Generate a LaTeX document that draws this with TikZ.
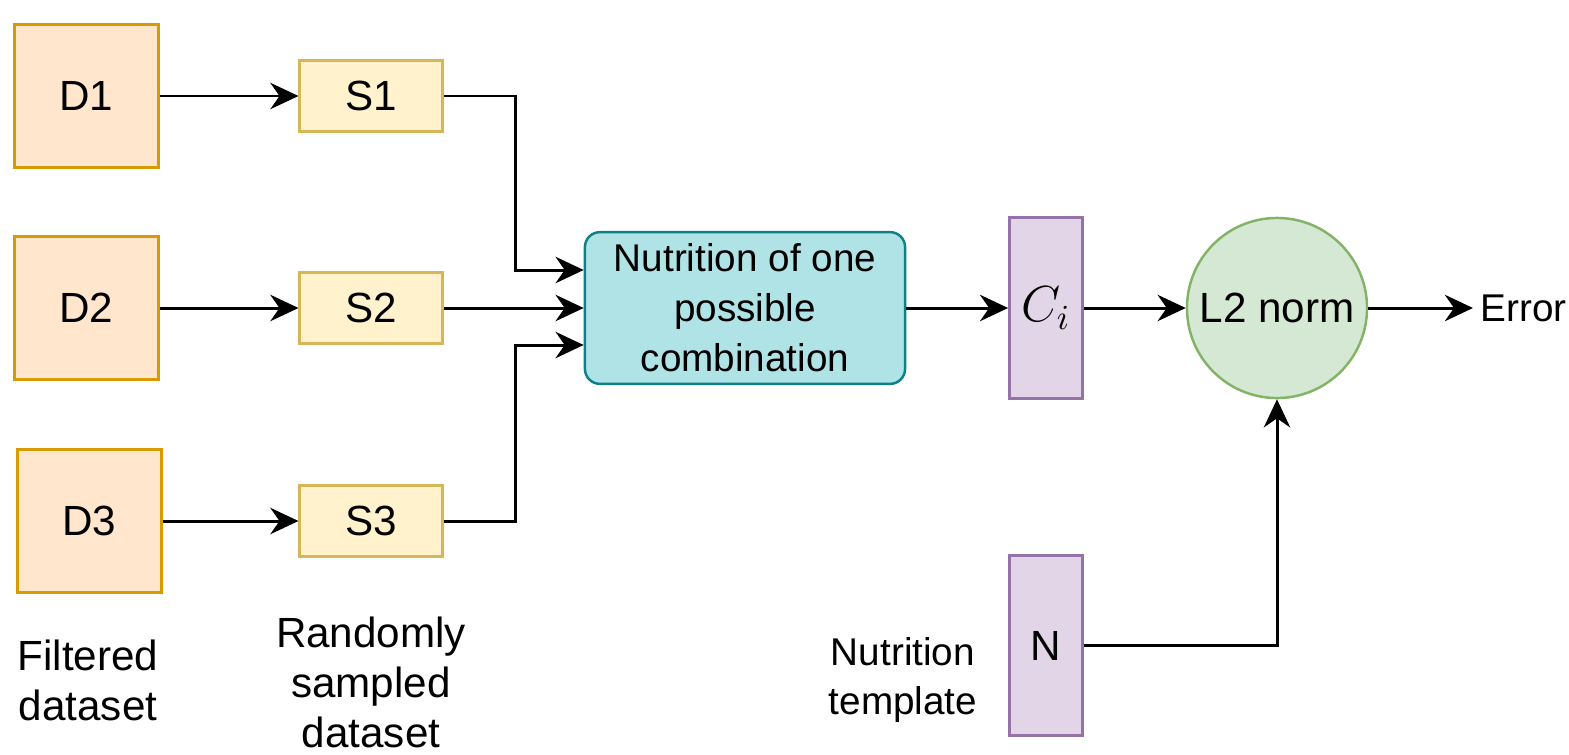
\documentclass[tikz,border=0pt]{standalone}
\usepackage{fontspec}
\setmainfont{Liberation Sans}
\usepackage{xcolor}
\usetikzlibrary{arrows.meta,calc,positioning}
\definecolor{dsetfill}{HTML}{FFE6CC}
\definecolor{dsetline}{HTML}{D79B00}
\definecolor{smplfill}{HTML}{FFF2CC}
\definecolor{smplline}{HTML}{D6B656}
\definecolor{combfill}{HTML}{B0E3E6}
\definecolor{combline}{HTML}{0E8088}
\definecolor{vecfill}{HTML}{E1D5E7}
\definecolor{vecline}{HTML}{9673A6}
\definecolor{normfill}{HTML}{D5E8D4}
\definecolor{normline}{HTML}{82B366}
\tikzset{
	>={Stealth[length=8pt,width=7.5pt,inset=2.6pt]},
	flow/.style={->, line width=0.85pt},
	bigtext/.style={font=\fontsize{12}{14.2}\selectfont},
	dsetbox/.style={
			draw=dsetline, fill=dsetfill, line width=0.85pt, rectangle,
			minimum width=1.43cm, minimum height=1.42cm, bigtext,
		},
	smplbox/.style={
			draw=smplline, fill=smplfill, line width=0.85pt, rectangle,
			minimum width=1.42cm, minimum height=0.7cm, bigtext,
		},
	combbox/.style={
			draw=combline, fill=combfill, line width=0.7pt, rectangle, rounded corners=0.15cm,
			minimum width=3.2cm, minimum height=1.43cm, align=center,
			font=\fontsize{11}{14.2}\selectfont,
		},
	vecbox/.style={
			draw=vecline, fill=vecfill, line width=0.85pt, rectangle,
			minimum width=0.72cm, minimum height=1.8cm, bigtext,
		},
	normnode/.style={
			draw=normline, fill=normfill, line width=0.7pt, circle,
			minimum size=1.8cm, inner sep=0pt, bigtext,
		},
	caption/.style={align=center, inner sep=0pt, bigtext},
}
\begin{document}
\begin{tikzpicture}[x=0.01cm,y=-0.01cm]
	\useasboundingbox (0,0) rectangle (1569,754);

	\node[dsetbox] at (86.5,96) (d1) {D1};
	\node[dsetbox] at (86.5,308) (d2) {D2};
	\node[dsetbox] at (89.5,521) (d3) {D3};

	\node[smplbox] at (371,96) (s1) {S1};
	\node[smplbox] at (371,308) (s2) {S2};
	\node[smplbox] at (371,521) (s3) {S3};

	\draw[flow] (d1) -- (s1);
	\draw[flow] (d2) -- (s2);
	\draw[flow] (d3) -- (s3);

	\node[combbox] at (745,308) (comb) {Nutrition of one\\possible\\combination};

	\draw[flow] (s1.east) -- ++(72,0) |- ($(comb.west)+(0,-38)$);
	\draw[flow] (s2) -- (comb);
	\draw[flow] (s3.east) -- ++(72,0) |- ($(comb.west)+(0,37)$);

	\node[vecbox] at (1046,308) (ci) {\fontsize{14}{16}\selectfont$C_i$};
	\node[vecbox] at (1046,645.5) (nt) {N};

	\node[normnode] at (1277,308) (l2) {L2 norm};
	\node[anchor=west, inner sep=2pt, font=\fontsize{11}{13}\selectfont] at (1473,308) (err) {Error};

	\draw[flow] (comb) -- (ci);
	\draw[flow] (ci) -- (l2);
	\draw[flow] (l2) -- (err);
	\draw[flow] (nt.east) -| (l2.south);

	\node[caption] at (88,680) (dsetcap) {Filtered\\dataset};
	\node[caption] at (371,682) (smplcap) {Randomly\\sampled\\dataset};
	\node[caption, font=\fontsize{11}{14.2}\selectfont] at (903,680) (ntcap) {Nutrition\\template};
\end{tikzpicture}
\end{document}
